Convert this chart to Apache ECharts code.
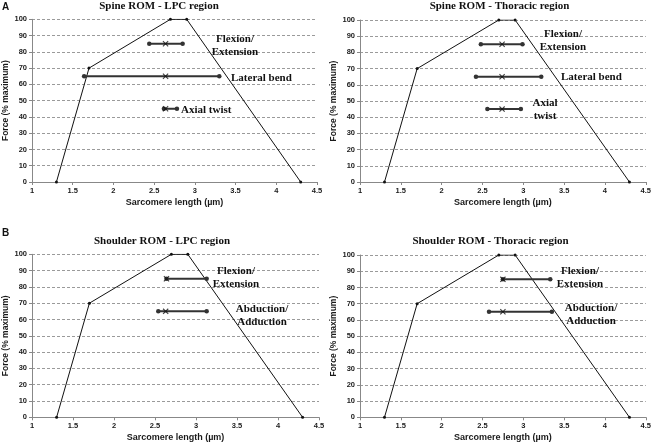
<!DOCTYPE html>
<html><head><meta charset="utf-8">
<script src="https://cdn.jsdelivr.net/npm/echarts@6/dist/echarts.min.js"></script>
<style>html,body{margin:0;padding:0;background:#fff}#c{width:654px;height:446px}</style>
</head><body><div id="c"></div>
<script>
// Force-length curve (same in all panels)
const curveLength = [1.3, 1.7, 2.7, 2.9, 4.3];
const curveForce = [0, 70, 100, 100, 0];
const xTickMin = 1, xTickMax = 4.5, xTickStep = 0.5;
const yTickMin = 0, yTickMax = 100, yTickStep = 10;

const panelTitles = ['Spine ROM - LPC region', 'Spine ROM - Thoracic region', 'Shoulder ROM - LPC region', 'Shoulder ROM - Thoracic region'];
const panelLetters = ['A', 'B'];

// Panel A left: Spine ROM - LPC
const spineLpcMotions = ['Flexion/\nExtension', 'Lateral bend', 'Axial twist'];
const spineLpcForce = [85, 65, 45];
const spineLpcMin = [2.44, 1.64, 2.62];
const spineLpcMax = [2.85, 3.30, 2.78];
const spineLpcMean = [2.64, 2.64, 2.64];

// Panel A right: Spine ROM - Thoracic
const spineThorMotions = ['Flexion/\nExtension', 'Lateral bend', 'Axial\ntwist'];
const spineThorForce = [85, 65, 45];
const spineThorMin = [2.48, 2.42, 2.56];
const spineThorMax = [2.99, 3.22, 2.97];
const spineThorMean = [2.74, 2.74, 2.74];

// Panel B left: Shoulder ROM - LPC
const shoulderLpcMotions = ['Flexion/\nExtension', 'Abduction/\nAdduction'];
const shoulderLpcForce = [85, 65];
const shoulderLpcMin = [2.64, 2.54];
const shoulderLpcMax = [3.13, 3.13];
const shoulderLpcMean = [2.64, 2.63];

// Panel B right: Shoulder ROM - Thoracic
const shoulderThorMotions = ['Flexion/\nExtension', 'Abduction/\nAdduction'];
const shoulderThorForce = [85, 65];
const shoulderThorMin = [2.75, 2.58];
const shoulderThorMax = [3.33, 3.35];
const shoulderThorMean = [2.75, 2.75];

const panels = [
  {motions: spineLpcMotions, force: spineLpcForce, min: spineLpcMin, max: spineLpcMax, mean: spineLpcMean},
  {motions: spineThorMotions, force: spineThorForce, min: spineThorMin, max: spineThorMax, mean: spineThorMean},
  {motions: shoulderLpcMotions, force: shoulderLpcForce, min: shoulderLpcMin, max: shoulderLpcMax, mean: shoulderLpcMean},
  {motions: shoulderThorMotions, force: shoulderThorForce, min: shoulderThorMin, max: shoulderThorMax, mean: shoulderThorMean}
];

// layout (pixels)
const grids = [
  {left: 32, top: 19.3, width: 285, height: 162.7},
  {left: 360, top: 20, width: 288, height: 162},
  {left: 32, top: 254.3, width: 287, height: 163},
  {left: 360, top: 255, width: 288, height: 162.3}
];
const titlePos = [[159, 6.5], [499.5, 6.5], [162, 241], [490.5, 241]];
const letterPos = [[2, 7.5], [2, 233]];
// label anchor positions per panel: [x, y, align]
const labelPos = [
  [[235, 46, 'center'], [231, 78, 'left'], [181, 110, 'left']],
  [[563, 40.5, 'center'], [561, 77, 'left'], [545, 110, 'center']],
  [[236, 278, 'center'], [262, 316, 'center']],
  [[580, 278, 'center'], [591, 315, 'center']]
];

const xMarker = 'path://M0,1.3L1.3,0L5,3.7L8.7,0L10,1.3L6.3,5L10,8.7L8.7,10L5,6.3L1.3,10L0,8.7L3.7,5Z';

const grid = [], xAxis = [], yAxis = [], series = [], graphic = [];
panels.forEach((p, i) => {
  grid.push(Object.assign({containLabel: false}, grids[i]));
  xAxis.push({
    type: 'value', gridIndex: i, min: xTickMin, max: xTickMax, interval: xTickStep,
    name: 'Sarcomere length (µm)', nameLocation: 'middle', nameGap: 16,
    nameTextStyle: {fontFamily: '"Liberation Sans", Arial, sans-serif', fontWeight: 'bold', fontSize: 9, color: '#1a1a1a'},
    axisLine: {lineStyle: {color: '#888', width: 1}},
    axisTick: {show: true, length: 3, lineStyle: {color: '#888'}},
    axisLabel: {fontFamily: '"Liberation Sans", Arial, sans-serif', fontWeight: 'bold', fontSize: 7.5, color: '#1a1a1a', margin: 5},
    splitLine: {show: false}
  });
  yAxis.push({
    type: 'value', gridIndex: i, min: yTickMin, max: yTickMax, interval: yTickStep,
    name: 'Force (% maximum)', nameLocation: 'middle', nameGap: 22, nameRotate: 90,
    nameTextStyle: {fontFamily: '"Liberation Sans", Arial, sans-serif', fontWeight: 'bold', fontSize: 8.5, color: '#1a1a1a'},
    axisLine: {show: true, lineStyle: {color: '#888', width: 1}},
    axisTick: {show: true, length: 3, lineStyle: {color: '#888'}},
    axisLabel: {fontFamily: '"Liberation Sans", Arial, sans-serif', fontWeight: 'bold', fontSize: 7.5, color: '#1a1a1a', margin: 5},
    splitLine: {show: true, lineStyle: {color: '#9a9a9a', type: [3, 2], width: 1}}
  });
  series.push({
    type: 'line', xAxisIndex: i, yAxisIndex: i,
    data: curveLength.map((x, k) => [x, curveForce[k]]),
    symbol: 'circle', symbolSize: 3, showSymbol: true,
    lineStyle: {color: '#111', width: 1}, itemStyle: {color: '#111'},
    silent: true, animation: false, z: 2
  });
  p.motions.forEach((m, k) => {
    series.push({
      type: 'line', xAxisIndex: i, yAxisIndex: i,
      data: [[p.min[k], p.force[k]], [p.max[k], p.force[k]]],
      symbol: 'circle', symbolSize: 4.5, showSymbol: true,
      lineStyle: {color: '#333', width: 2}, itemStyle: {color: '#333'},
      silent: true, animation: false, z: 3
    });
    series.push({
      type: 'scatter', xAxisIndex: i, yAxisIndex: i,
      data: [[p.mean[k], p.force[k]]],
      symbol: xMarker, symbolSize: 6,
      itemStyle: {color: '#111'}, silent: true, animation: false, z: 4
    });
    const lp = labelPos[i][k];
    graphic.push({
      type: 'text', x: lp[0], y: lp[1], z: 10,
      style: {text: m, font: 'bold 11px "Liberation Serif", "Times New Roman", serif', fill: '#111',
        textAlign: lp[2], textVerticalAlign: 'middle', lineHeight: 13}
    });
  });
  graphic.push({
    type: 'text', x: titlePos[i][0], y: titlePos[i][1], z: 10,
    style: {text: panelTitles[i], font: 'bold 11px "Liberation Serif", "Times New Roman", serif', fill: '#111',
      textAlign: 'center', textVerticalAlign: 'middle'}
  });
});
panelLetters.forEach((l, k) => {
  graphic.push({
    type: 'text', x: letterPos[k][0], y: letterPos[k][1], z: 10,
    style: {text: l, font: 'bold 10px "Liberation Sans", Arial, sans-serif', fill: '#111',
      textAlign: 'left', textVerticalAlign: 'middle'}
  });
});

const chart = echarts.init(document.getElementById('c'), null, {renderer: 'canvas'});
chart.setOption({animation: false, backgroundColor: '#fff', grid, xAxis, yAxis, series, graphic});
</script>
</body></html>
